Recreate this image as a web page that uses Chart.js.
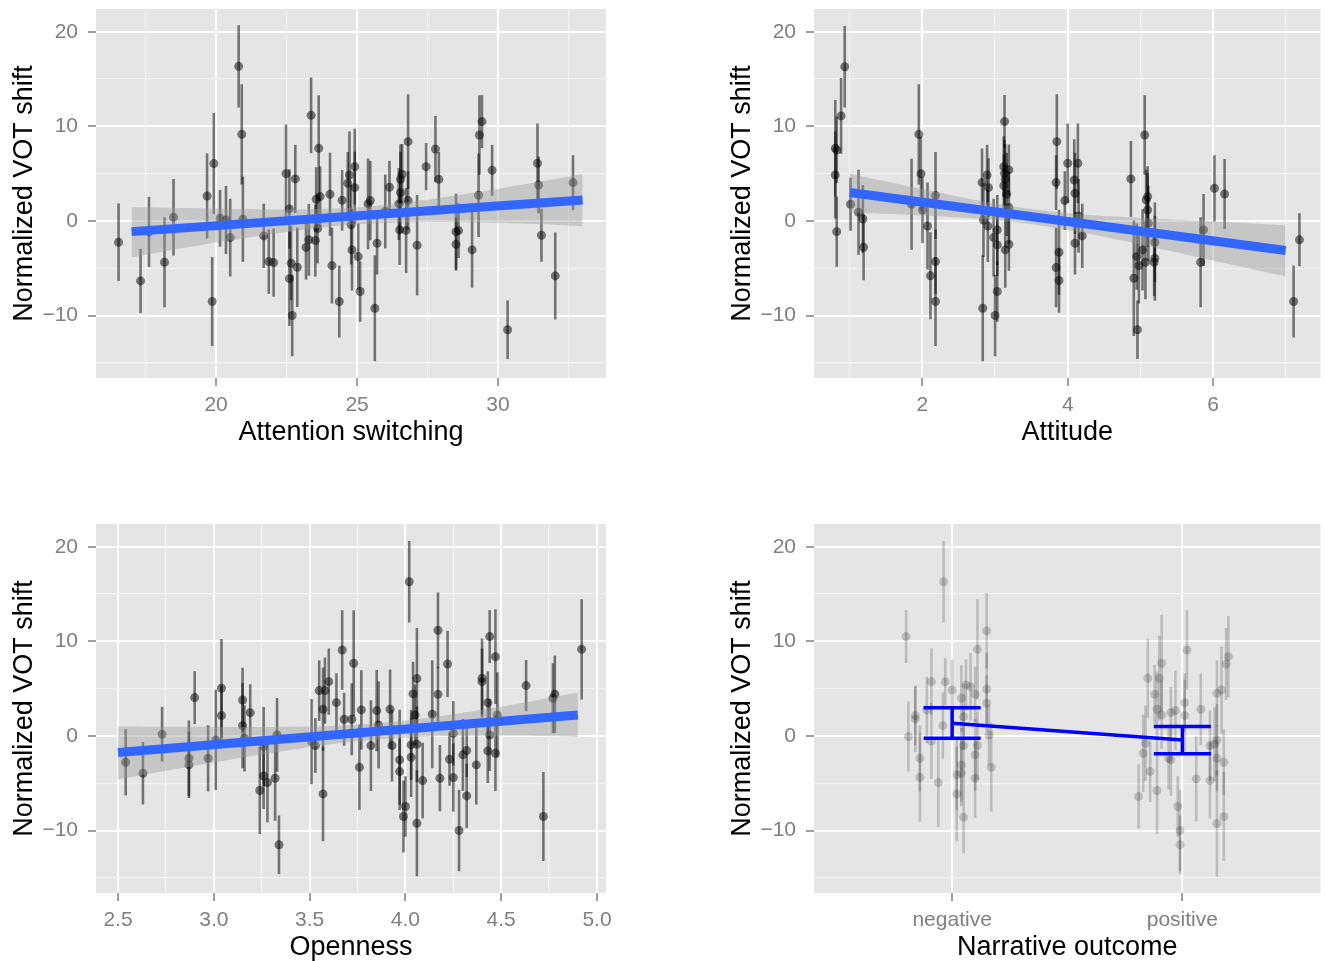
<!DOCTYPE html>
<html>
<head>
<meta charset="utf-8">
<title>Normalized VOT shift</title>
<script src="https://cdn.jsdelivr.net/npm/chart.js@4.4.0/dist/chart.umd.min.js"></script>
<style>
  html, body { margin: 0; padding: 0; background: #fff; overflow: hidden; }
  canvas { position: absolute; }
</style>
</head>
<body>
<canvas id="attnChart" width="620" height="460" style="left:0;top:0"></canvas>
<canvas id="attitudeChart" width="607" height="460" style="left:718px;top:0"></canvas>
<canvas id="openChart" width="620" height="460" style="left:0;top:515px"></canvas>
<canvas id="narrChart" width="607" height="460" style="left:718px;top:515px"></canvas>
<script>
// shared y axis
const yTicksMajor = [-10, 0, 10, 20];
const yTicksMinor = [-15, -5, 5, 15];

// Attention switching
const attnX = [16.54, 17.32, 17.62, 18.17, 18.49, 19.68, 19.86, 19.92, 20.14, 20.35, 20.5, 20.8, 20.91, 20.95, 21.69, 21.87, 22.04, 22.48, 22.6, 22.66, 22.6, 22.7, 22.81, 22.88, 23.19, 23.29, 23.37, 23.52, 23.55, 23.64, 23.69, 23.6, 24.04, 24.11, 24.37, 24.47, 24.73, 24.67, 24.79, 24.82,
  24.92, 24.92, 25.04, 25.11, 25.39, 25.47, 25.63, 25.71, 26.0, 26.15, 26.48, 26.54, 26.54, 26.6, 26.51, 26.74, 26.81, 26.81, 27.13, 27.45, 27.78, 27.9, 28.51, 28.6, 28.51, 29.08, 29.31, 29.34, 29.43, 29.79, 30.34, 31.4, 31.44, 31.54, 32.03, 32.66];
const attnY = [-2.25, -6.34, -1.16, -4.37, 0.39, 2.64, -8.52, 6.06, 0.28, 0.1, -1.76, 16.34, 9.15, 0.18, -1.58, -4.3, -4.4, 5.0, 1.27, -4.47, -6.1, -10.0, 4.44, -4.9, -2.8, -2.0, 11.16, -2.08, 2.29, 7.68, 2.57, -0.8, 2.82, -4.72, -8.52, 2.18, 4.86, 3.98, -0.4, -3.06,
  5.74, 3.52, -3.77, -7.46, 1.8, 2.15, -9.23, -2.36, 1.0, 3.56, 1.8, 3.0, 4.4, 4.93, -0.95, -1.0, 8.38, 2.15, -2.57, 5.74, 7.6, 4.4, -1.13, -1.02, -2.46, -3.06, 2.71, 9.08, 10.5, 5.35, -11.5, 6.1, 3.8, -1.51, -5.81, 4.05];
const attnErr = [4.1, 3.4, 3.7, 4.75, 4.05, 4.5, 4.7, 5.35, 3.0, 3.6, 4.1, 4.35, 5.3, 4.5, 3.4, 3.4, 3.6, 5.2, 4.2, 3.9, 5.0, 4.3, 3.6, 4.2, 3.4, 3.8, 4.0, 3.8, 3.4, 5.6, 3.2, 3.7, 4.4, 4.0, 3.8, 3.2, 4.6, 3.3, 4.2, 4.3,
  4.0, 3.8, 3.5, 3.2, 4.8, 4.2, 5.6, 3.3, 3.9, 2.8, 3.8, 4.3, 3.7, 3.2, 3.7, 4.5, 5.0, 3.1, 5.3, 2.5, 3.5, 2.9, 4.0, 2.9, 2.8, 4.0, 4.4, 4.2, 2.8, 2.7, 3.1, 4.2, 3.0, 2.8, 4.6, 2.9];
const attnFitX = [17, 33];
const attnFitY = [-1.13, 2.22];
const attnBandX = [17, 19, 21, 23, 25, 27, 29, 31, 33];
const attnBandLo = [-3.85, -2.78, -1.83, -0.98, -0.36, -0.14, -0.16, -0.3, -0.55];
const attnBandHi = [1.45, 1.36, 1.25, 1.22, 1.44, 2.06, 2.92, 3.9, 4.95];
const attnTicksMajor = [20, 25, 30];
const attnTicksMinor = [17.5, 22.5, 27.5, 32.5];

// Attitude
const attX = [0.93, 0.88, 0.80, 0.82, 0.80, 0.82, 1.01, 1.12, 1.18, 1.19, 1.85, 1.95, 1.98, 2.0, 2.07, 2.11, 2.18, 2.18, 2.18, 2.83, 2.82, 2.84, 2.89, 2.91, 2.9, 3.0, 2.98, 3.03, 3.03, 3.03, 3.13, 3.12, 3.13, 3.14, 3.12, 3.16, 3.19, 3.19, 3.14, 3.19,
  3.85, 3.84, 3.88, 3.84, 3.88, 4.0, 3.96, 4.14, 4.09, 4.1, 4.15, 4.1, 4.2, 4.87, 4.91, 4.96, 4.95, 4.98, 5.03, 5.06, 5.08, 5.1, 5.1, 5.11, 5.07, 5.2, 5.19, 5.2, 5.83, 5.87, 6.02, 6.16, 7.11, 7.19];
const attY = [16.3, 11.1, 7.68, 7.5, 4.86, -1.13, 1.76, 0.92, 0.2, -2.78, 1.76, 9.15, 5.0, 1.16, -0.53, -5.8, 2.68, -4.3, -8.52, -9.23, 4.05, 0.1, 4.86, 3.52, -0.53, -10.0, -1.76, -0.95, -7.46, -2.53, 10.5, 5.74, 5.04, 4.4, 3.73, 2.82, 5.39, 1.41, -3.06, -2.46,
  8.38, 4.05, -3.31, -4.93, -6.3, 6.1, 2.15, 6.1, 4.33, 2.92, 0.53, -2.36, -1.58, 4.44, -6.06, -11.5, -3.77, -4.72, -3.06, 9.08, 2.22, 2.57, 1.16, -0.25, -4.37, -2.25, -4.37, -3.94, -4.37, -0.95, 3.45, 2.85, -8.52, -2.0];
const attErr = [4.3, 4.0, 5.1, 3.5, 4.6, 3.7, 2.8, 4.5, 3.6, 3.5, 4.8, 5.3, 3.9, 3.5, 4.6, 4.6, 4.6, 3.4, 4.7, 5.6, 3.6, 3.9, 3.2, 3.1, 3.8, 4.3, 4.1, 3.7, 3.2, 3.3, 2.8, 3.2, 3.5, 3.7, 3.3, 4.4, 2.7, 3.8, 4.0, 2.8,
  5.0, 2.9, 4.5, 4.2, 3.4, 4.2, 3.1, 4.2, 4.3, 4.3, 3.9, 3.3, 3.4, 4.0, 6.1, 3.1, 3.5, 4.0, 4.3, 4.2, 3.2, 3.2, 3.9, 4.0, 3.9, 4.2, 3.6, 4.5, 4.75, 3.8, 3.5, 3.7, 3.8, 2.8];
const attFitX = [1, 7];
const attFitY = [3.0, -3.13];
const attBandX = [1, 2, 3, 4, 5, 6, 7];
const attBandLo = [0.9, 0.58, 0.07, -0.95, -2.48, -4.18, -5.87];
const attBandHi = [5.0, 3.38, 1.85, 0.83, 0.32, -0.02, -0.45];
const attTicksMajor = [2, 4, 6];
const attTicksMinor = [1, 3, 5, 7];

// Openness
const openX = [2.54, 2.63, 2.73, 2.87, 2.87, 2.9, 2.97, 3.01, 3.04, 3.04, 3.15, 3.15, 3.19, 3.16, 3.24, 3.26, 3.26, 3.28, 3.32, 3.33, 3.34, 3.51, 3.53, 3.55, 3.57, 3.57, 3.58, 3.6, 3.64, 3.67, 3.68, 3.72, 3.73, 3.77, 3.76, 3.82, 3.85, 3.86, 3.92, 3.93,
  3.97, 3.97, 4.0, 3.99, 4.02, 4.03, 4.03, 4.04, 4.05, 4.06, 4.06, 4.06, 4.09, 4.14, 4.17, 4.17, 4.18, 4.22, 4.23, 4.25, 4.25, 4.28, 4.3, 4.32, 4.32, 4.37, 4.4, 4.4, 4.43, 4.43, 4.44, 4.44, 4.47, 4.47, 4.48, 4.63, 4.72, 4.77, 4.78, 4.92];
const openY = [-2.78, -3.94, 0.18, -2.36, -3.06, 4.05, -2.36, -0.42, 5.04, 2.15, 3.8, 1.09, 2.46, -0.25, -5.77, -4.23, -1.13, -4.93, -4.47, 0.1, -11.5, -0.6, -1.02, 4.79, 2.82, -6.13, 4.79, 5.74, 3.52, 9.08, 1.76, 1.76, 7.68, 2.75, -3.31, -1.02, 2.68, 1.16, 2.82, -1.02,
  -2.53, -3.77, -7.46, -8.52, 16.3, -0.95, -2.25, 4.44, 2.22, 6.06, -0.88, -9.23, -4.72, 2.29, 4.4, 11.16, -4.47, 7.6, -2.46, -4.4, 0.28, -10.0, -2.0, -1.55, -6.34, -3.06, 6.1, 5.74, 3.52, -1.58, 10.5, 0.1, -1.83, 8.38, 2.22, 5.32, -8.52, 3.98, 4.4, 9.15];
const openErr = [3.5, 3.3, 2.9, 4.0, 3.5, 2.8, 3.5, 5.3, 5.2, 3.1, 3.4, 4.5, 3.0, 3.5, 4.6, 3.5, 4.2, 4.2, 4.5, 3.9, 3.1, 4.5, 2.9, 3.2, 4.4, 5.0, 3.5, 3.5, 3.1, 4.2, 2.8, 3.8, 5.6, 4.2, 4.5, 4.8, 4.3, 4.6, 4.2, 3.8,
  5.3, 3.5, 3.2, 3.8, 4.3, 3.7, 4.2, 3.4, 3.2, 5.35, 4.0, 5.6, 4.0, 5.7, 2.9, 4.0, 3.5, 3.5, 2.8, 3.6, 3.4, 4.3, 3.8, 2.8, 3.4, 4.2, 4.2, 3.5, 3.3, 3.4, 2.8, 3.8, 4.0, 5.0, 4.5, 2.7, 4.7, 3.7, 4.1, 5.3];
const openFitX = [2.5, 4.9];
const openFitY = [-1.76, 2.22];
const openBandX = [2.5, 2.9, 3.3, 3.7, 4.1, 4.5, 4.9];
const openBandLo = [-4.6, -3.16, -1.81, -0.67, -0.09, 0.02, -0.1];
const openBandHi = [1.0, 0.96, 0.95, 1.13, 1.87, 3.1, 4.6];
const openTicksMajor = [2.5, 3.0, 3.5, 4.0, 4.5, 5.0];
const openTicksMinor = [2.75, 3.25, 3.75, 4.25, 4.75];

// Narrative outcome (1 = negative, 2 = positive, jittered)
const narrLabels = ['negative', 'positive'];
const narrX = [0.963, 0.80, 0.91, 0.97, 1.0, 1.06, 1.04, 1.11, 1.15, 1.1, 1.15, 1.15, 0.84, 0.84, 0.81, 0.89, 0.91, 0.96, 0.86, 0.86, 0.94, 1.02, 1.02, 1.04, 1.05, 1.05, 1.05, 1.1, 1.11, 1.1, 1.16, 1.17, 1.04, 1.08,
  2.02, 1.91, 1.85, 1.9, 1.88, 1.89, 1.91, 1.95, 1.97, 2.01, 2.01, 2.08, 2.15, 2.17, 2.2, 2.19, 1.84, 1.83, 1.86, 1.81, 1.89, 1.94, 1.95, 1.98, 1.99, 1.99, 2.06, 2.12, 2.12, 2.14, 2.15, 2.18, 2.15, 2.18, 2.15];
const narrY = [16.3, 10.5, 5.74, 5.74, 4.86, 5.39, 3.98, 9.15, 11.1, 4.4, 4.96, 3.45, 2.15, 1.8, -0.07, 2.75, -0.53, 1.09, -2.36, -4.37, -4.93, -4.12, -6.13, -3.06, -8.59, 2.04, -1.02, -2.0, -1.02, -4.47, 0.1, -3.31, -3.94, 5.2,
  9.08, 7.68, 6.1, 6.1, 4.4, 2.82, 2.22, 2.46, 2.68, 3.52, 2.15, 2.82, 4.5, 4.86, 8.38, 7.6, -0.77, -1.83, -3.77, -6.4, -5.77, -2.36, -2.53, -7.46, -10.0, -11.5, -4.54, -4.72, -1.02, -0.88, -2.36, -2.78, -9.26, -8.52, -0.42];
const narrErr = [4.3, 2.8, 3.5, 2.5, 3.2, 2.7, 3.5, 5.3, 4.0, 2.9, 3.8, 3.0, 3.1, 3.5, 3.7, 3.5, 4.0, 3.5, 3.5, 4.7, 4.7, 3.7, 5.0, 3.9, 3.8, 3.5, 3.8, 3.8, 3.6, 4.2, 3.2, 4.7, 3.5, 3.6,
  4.2, 5.1, 4.2, 4.5, 3.1, 4.0, 3.6, 2.7, 4.2, 3.1, 3.8, 3.8, 3.5, 4.6, 4.3, 3.8, 4.0, 4.1, 3.2, 3.4, 4.6, 3.3, 3.8, 3.2, 4.3, 3.1, 4.5, 4.0, 3.7, 3.9, 3.5, 3.5, 5.6, 4.7, 3.8];
const narrCatX = [1, 2];
const narrMean = [1.34, -0.42];
const narrLow = [-0.25, -1.87];
const narrHigh = [2.99, 0.99];
const narrWhisker = 0.124;
const narrTicksMajor = [1, 2];

const FONT = '"Liberation Sans", Arial, Helvetica, sans-serif';

// grey panel behind the plot area, ggplot style
const panelBg = {
    id: 'panelBg',
    beforeDraw(chart) {
        const { ctx, chartArea: a } = chart;
        ctx.save();
        ctx.fillStyle = '#E5E5E5';
        ctx.fillRect(a.left, a.top, a.right - a.left, a.bottom - a.top);
        ctx.restore();
    }
};

function fmtY(v) {
    return v < 0 ? '\u2212' + Math.abs(v) : String(v);
}

function makeAxis(isX, min, max, majors, minors, labelFn, title) {
    const all = majors.concat(minors).sort((a, b) => a - b);
    return {
        type: 'linear',
        min: min,
        max: max,
        offset: false,
        border: { display: false },
        afterBuildTicks: (axis) => { axis.ticks = all.map(v => ({ value: v })); },
        afterFit: (scale) => {
            if (isX) scale.height = 82; else scale.width = 96;
            scale.paddingLeft = 0; scale.paddingRight = 0;
            scale.paddingTop = 0; scale.paddingBottom = 0;
        },
        grid: {
            color: (c) => majors.includes(c.tick.value) ? '#FFFFFF' : '#F2F2F2',
            lineWidth: (c) => majors.includes(c.tick.value) ? 2 : 1.2,
            tickColor: (c) => majors.includes(c.tick.value) ? '#7F7F7F' : 'rgba(0,0,0,0)',
            tickLength: 8,
            tickWidth: 1.5
        },
        ticks: {
            autoSkip: false,
            maxRotation: 0,
            minRotation: 0,
            padding: isX ? 7 : 10,
            color: '#7F7F7F',
            font: { family: FONT, size: 21 },
            callback: (v) => majors.includes(v) ? labelFn(v) : ''
        },
        title: {
            display: true,
            text: title,
            color: '#000000',
            font: { family: FONT, size: 27 },
            padding: isX ? { top: 0, bottom: 11 } : { top: 8, bottom: 0 }
        }
    };
}

function pointDatasets(xs, ys, errs, alpha) {
    const out = [];
    out.push({
        data: xs.map((x, i) => ({ x: x, y: ys[i] })),
        backgroundColor: 'rgba(0,0,0,' + alpha + ')',
        pointRadius: 4.5,
        borderWidth: 0
    });
    xs.forEach((x, i) => {
        out.push({
            type: 'line',
            data: [{ x: x, y: ys[i] - errs[i] }, { x: x, y: ys[i] + errs[i] }],
            borderColor: 'rgba(0,0,0,' + alpha + ')',
            borderWidth: 2.6,
            pointRadius: 0,
            fill: false
        });
    });
    return out;
}

function fitDatasets(fitX, fitY, bandX, bandLo, bandHi) {
    return [
        {
            type: 'line',
            data: fitX.map((x, i) => ({ x: x, y: fitY[i] })),
            borderColor: '#3366FF',
            borderWidth: 9,
            pointRadius: 0,
            fill: false
        },
        {
            type: 'line',
            data: bandX.map((x, i) => ({ x: x, y: bandHi[i] })),
            borderWidth: 0,
            borderColor: 'rgba(0,0,0,0)',
            backgroundColor: 'rgba(153,153,153,0.4)',
            pointRadius: 0,
            tension: 0.4,
            fill: '+1'
        },
        {
            type: 'line',
            data: bandX.map((x, i) => ({ x: x, y: bandLo[i] })),
            borderWidth: 0,
            borderColor: 'rgba(0,0,0,0)',
            pointRadius: 0,
            tension: 0.4,
            fill: false
        }
    ];
}

function makeChart(id, datasets, xAxis, rightPad) {
    return new Chart(document.getElementById(id), {
        type: 'scatter',
        data: { datasets: datasets },
        options: {
            responsive: false,
            animation: false,
            events: [],
            layout: { padding: { left: 0, top: 9, right: rightPad, bottom: 0 } },
            plugins: { legend: { display: false }, tooltip: { enabled: false } },
            scales: {
                x: xAxis,
                y: makeAxis(false, -16.6, 22.4, yTicksMajor, yTicksMinor, fmtY, 'Normalized VOT shift')
            }
        },
        plugins: [panelBg]
    });
}

makeChart('attnChart',
    fitDatasets(attnFitX, attnFitY, attnBandX, attnBandLo, attnBandHi).concat(pointDatasets(attnX, attnY, attnErr, 0.5)),
    makeAxis(true, 15.74, 33.83, attnTicksMajor, attnTicksMinor, v => String(v), 'Attention switching'), 14);

makeChart('attitudeChart',
    fitDatasets(attFitX, attFitY, attBandX, attBandLo, attBandHi).concat(pointDatasets(attX, attY, attErr, 0.5)),
    makeAxis(true, 0.507, 7.48, attTicksMajor, attTicksMinor, v => String(v), 'Attitude'), 2);

makeChart('openChart',
    fitDatasets(openFitX, openFitY, openBandX, openBandLo, openBandHi).concat(pointDatasets(openX, openY, openErr, 0.5)),
    makeAxis(true, 2.385, 5.047, openTicksMajor, openTicksMinor, v => v.toFixed(1), 'Openness'), 14);

// group means with standard-error bars, drawn in blue
const meanDatasets = [];
const blue = { type: 'line', borderColor: '#0000FF', borderWidth: 3.5, pointRadius: 0, fill: false };
meanDatasets.push(Object.assign({}, blue, { data: narrCatX.map((x, i) => ({ x: x, y: narrMean[i] })) }));
narrCatX.forEach((x, i) => {
    meanDatasets.push(Object.assign({}, blue, { data: [{ x: x, y: narrLow[i] }, { x: x, y: narrHigh[i] }] }));
    meanDatasets.push(Object.assign({}, blue, { data: [{ x: x - narrWhisker, y: narrHigh[i] }, { x: x + narrWhisker, y: narrHigh[i] }] }));
    meanDatasets.push(Object.assign({}, blue, { data: [{ x: x - narrWhisker, y: narrLow[i] }, { x: x + narrWhisker, y: narrLow[i] }] }));
});

makeChart('narrChart',
    meanDatasets.concat(pointDatasets(narrX, narrY, narrErr, 0.18)),
    makeAxis(true, 0.4, 2.6, narrTicksMajor, [], v => narrLabels[v - 1], 'Narrative outcome'), 2);
</script>
</body>
</html>
